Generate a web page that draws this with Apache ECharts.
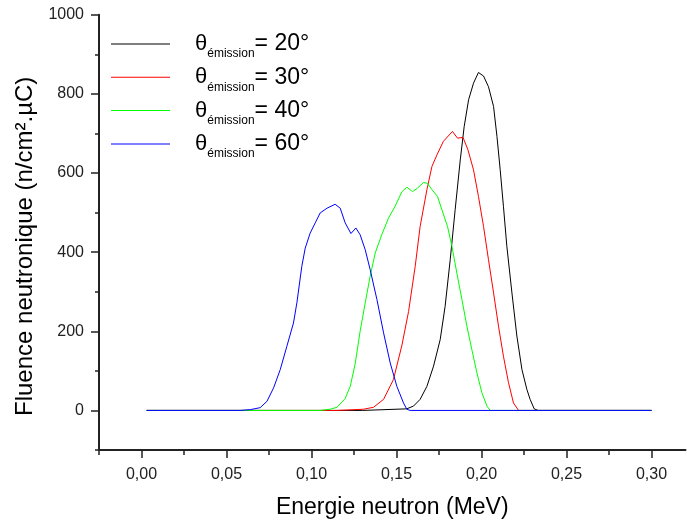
<!DOCTYPE html>
<html><head><meta charset="utf-8">
<script src="https://cdn.jsdelivr.net/npm/echarts@6/dist/echarts.min.js"></script>
<style>html,body{margin:0;padding:0;background:#fff}#c{width:687px;height:524px}</style>
</head><body><div id="c"></div>
<script>
// ---- data ----
const energy20 = [0.003, 0.13, 0.156, 0.16, 0.1639, 0.1679, 0.1718, 0.1757, 0.1786, 0.1816, 0.1845, 0.1875, 0.1898, 0.1924, 0.1953, 0.1982, 0.2012, 0.2041, 0.2071, 0.2091, 0.211, 0.2129, 0.2149, 0.2179, 0.2208, 0.2238, 0.2267, 0.2286, 0.231, 0.2333, 0.30];
const fluence20 = [0, 0, 4, 11, 28, 61, 112, 179, 263, 381, 507, 633, 717, 785, 827, 854, 845, 818, 768, 692, 608, 516, 415, 297, 188, 103, 53, 28, 4, 0, 0];

const energy30 = [0.003, 0.115, 0.1306, 0.1365, 0.1424, 0.1482, 0.1532, 0.1571, 0.161, 0.1639, 0.1679, 0.1708, 0.1738, 0.1776, 0.1829, 0.1859, 0.1891, 0.192, 0.1953, 0.1982, 0.2012, 0.2041, 0.2071, 0.21, 0.2129, 0.2159, 0.2188, 0.2218, 0.30];
const fluence30 = [0, 0, 3, 8, 28, 78, 165, 250, 364, 465, 558, 616, 646, 680, 705, 688, 690, 659, 608, 541, 465, 381, 297, 213, 137, 70, 19, 0, 0];

const energy40 = [0.003, 0.105, 0.111, 0.115, 0.1198, 0.1228, 0.1257, 0.1286, 0.1316, 0.1345, 0.1375, 0.1414, 0.1453, 0.1492, 0.1532, 0.1561, 0.1594, 0.1624, 0.1659, 0.1682, 0.1708, 0.1741, 0.1767, 0.18, 0.1826, 0.1855, 0.1885, 0.1914, 0.1943, 0.1973, 0.2002, 0.2032, 0.2051, 0.30];
const fluence40 = [0, 0, 3, 8, 30, 61, 118, 200, 272, 339, 398, 445, 486, 516, 553, 564, 553, 562, 576, 574, 558, 541, 507, 465, 415, 347, 280, 213, 154, 95, 45, 11, 0, 0];

const energy60 = [0.003, 0.058, 0.064, 0.0698, 0.0738, 0.0777, 0.0816, 0.0855, 0.0894, 0.0914, 0.0943, 0.0963, 0.0992, 0.1022, 0.1051, 0.1091, 0.1139, 0.1169, 0.1198, 0.1232, 0.1261, 0.1286, 0.1316, 0.1345, 0.1385, 0.1424, 0.1463, 0.1502, 0.1541, 0.1561, 0.158, 0.30];
const fluence60 = [0, 0, 2, 7, 23, 57, 103, 162, 221, 272, 364, 410, 448, 474, 499, 511, 521, 511, 474, 447, 461, 444, 406, 356, 280, 196, 120, 61, 19, 3, 0, 0];

const seriesNames = ['θémission= 20°', 'θémission= 30°', 'θémission= 40°', 'θémission= 60°'];
const angleLabels = ['20°', '30°', '40°', '60°'];
const seriesColors = ['#000000', '#ff0000', '#00ff00', '#0000ff'];

const xLabelTicks = [0, 0.05, 0.10, 0.15, 0.20, 0.25, 0.30];
const xMinorTicks = [-0.025, 0.025, 0.075, 0.125, 0.175, 0.225, 0.275];
const yLabelTicks = [0, 200, 400, 600, 800, 1000];
const yMinorTicks = [-100, 100, 300, 500, 700, 900];

const xTitle = 'Energie neutron (MeV)';
const yTitle = 'Fluence neutronique (n/cm².µC)';

// ---- chart ----
const FONT = '"Liberation Sans", Arial, sans-serif';
const AX = '#222';
const zip = (a, b) => a.map((v, i) => [v, b[i]]);
const energies = [energy20, energy30, energy40, energy60];
const fluences = [fluence20, fluence30, fluence40, fluence60];

const chart = echarts.init(document.getElementById('c'), null, {renderer: 'canvas'});
const X_MIN = -0.025, X_MAX = 0.32, Y_MIN = -100, Y_MAX = 1000;
const GRID = {left: 99, top: 14.7, width: 586.5, height: 436.3};

chart.setOption({
  animation: false,
  backgroundColor: '#ffffff',
  grid: GRID,
  legend: {
    orient: 'vertical',
    left: 111,
    top: 28,
    padding: 0,
    itemGap: 1.3,
    itemWidth: 59,
    itemHeight: 1,
    icon: 'rect',
    data: seriesNames,
    formatter: function (name) {
      const i = seriesNames.indexOf(name);
      return '{t|θ}{s|émission}{n|= ' + angleLabels[i] + '}';
    },
    textStyle: {
      fontFamily: FONT,
      color: '#000',
      lineHeight: 32,
      rich: {
        t: {fontFamily: FONT, fontSize: 22, lineHeight: 32, height: 32, color: '#000', padding: [0, 0, 0, 20]},
        s: {fontFamily: FONT, fontSize: 12, lineHeight: 12, height: 12, color: '#000', verticalAlign: 'bottom'},
        n: {fontFamily: FONT, fontSize: 23, lineHeight: 32, height: 32, color: '#000'}
      }
    }
  },
  xAxis: [{
    type: 'value', min: X_MIN, max: X_MAX, position: 'bottom',
    axisLine: {show: true, onZero: false, lineStyle: {color: AX, width: 2}},
    axisTick: {show: true, customValues: xLabelTicks, length: 8, lineStyle: {color: AX, width: 1.5}},
    axisLabel: {customValues: xLabelTicks, formatter: v => v.toFixed(2).replace('.', ','),
      margin: 17, fontSize: 16, color: AX, fontFamily: FONT},
    splitLine: {show: false},
    name: xTitle, nameLocation: 'middle', nameGap: 46,
    nameTextStyle: {fontSize: 23, color: '#000', fontFamily: FONT}
  }, {
    type: 'value', min: X_MIN, max: X_MAX, position: 'top', offset: -GRID.height,
    axisLine: {show: false, onZero: false},
    axisTick: {show: true, inside: true, customValues: xMinorTicks, length: 4, lineStyle: {color: AX, width: 1.5}},
    axisLabel: {show: false},
    splitLine: {show: false}
  }],
  yAxis: [{
    type: 'value', min: Y_MIN, max: Y_MAX, position: 'left',
    axisLine: {show: true, onZero: false, lineStyle: {color: AX, width: 2}},
    axisTick: {show: true, customValues: yLabelTicks, length: 8, lineStyle: {color: AX, width: 1.5}},
    axisLabel: {customValues: yLabelTicks, formatter: v => String(v), margin: 15, fontSize: 16, color: AX, fontFamily: FONT},
    splitLine: {show: false},
    name: yTitle, nameLocation: 'middle', nameGap: 61,
    nameTextStyle: {fontSize: 24, color: '#000', fontFamily: FONT, padding: [0, 28, 0, 0]}
  }, {
    type: 'value', min: Y_MIN, max: Y_MAX, position: 'right', offset: -GRID.width,
    axisLine: {show: false, onZero: false},
    axisTick: {show: true, inside: true, customValues: yMinorTicks, length: 4, lineStyle: {color: AX, width: 1.5}},
    axisLabel: {show: false},
    splitLine: {show: false}
  }],
  series: seriesNames.map((nm, i) => ({
    name: nm,
    type: 'line',
    xAxisIndex: 0,
    yAxisIndex: 0,
    data: zip(energies[i], fluences[i]),
    symbol: 'none',
    smooth: false,
    color: seriesColors[i],
    lineStyle: {color: seriesColors[i], width: 1},
    z: 2 + i
  }))
});
</script>
</body></html>
